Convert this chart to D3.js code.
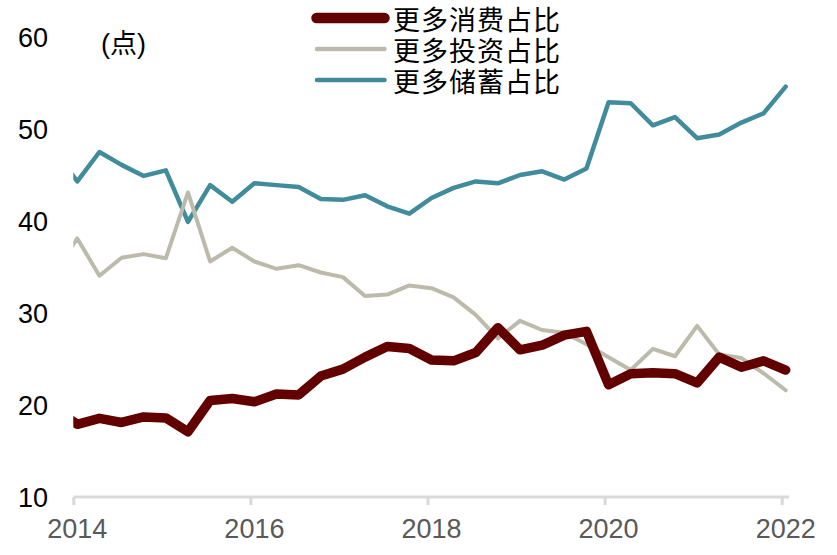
<!DOCTYPE html>
<html>
<head>
<meta charset="utf-8">
<script src="https://cdn.jsdelivr.net/npm/d3@7/dist/d3.min.js"></script>
<style>
  html, body { margin: 0; padding: 0; background: #ffffff; }
  svg { display: block; }
</style>
</head>
<body>
<svg id="chart" width="837" height="555"></svg>
<script>
// ---- Data ----
const quarters = ["2013Q4",
  "2014Q1","2014Q2","2014Q3","2014Q4","2015Q1","2015Q2","2015Q3","2015Q4",
  "2016Q1","2016Q2","2016Q3","2016Q4","2017Q1","2017Q2","2017Q3","2017Q4",
  "2018Q1","2018Q2","2018Q3","2018Q4","2019Q1","2019Q2","2019Q3","2019Q4",
  "2020Q1","2020Q2","2020Q3","2020Q4","2021Q1","2021Q2","2021Q3","2021Q4",
  "2022Q1"];
const consumption = [19.5,
  17.9, 18.55, 18.1, 18.7, 18.6, 17.1, 20.5, 20.7,
  20.35, 21.2, 21.1, 23.15, 23.9, 25.2, 26.35, 26.15,
  24.9, 24.8, 25.7, 28.4, 26.0, 26.5, 27.6, 28.0,
  22.2, 23.4, 23.5, 23.4, 22.4, 25.2, 24.1, 24.8,
  23.8];
const investment = [34.5,
  38.1, 34.05, 36.0, 36.4, 35.95, 43.1, 35.6, 37.1,
  35.6, 34.8, 35.2, 34.4, 33.9, 31.85, 32.0, 33.0,
  32.7, 31.7, 29.8, 27.25, 29.15, 28.15, 27.85, 26.6,
  25.2, 23.8, 26.1, 25.3, 28.6, 25.5, 25.1, 23.45,
  21.6];
const savings = [47.5,
  44.3, 47.5, 46.1, 44.9, 45.5, 39.9, 43.9, 42.1,
  44.1, 43.9, 43.7, 42.4, 42.3, 42.8, 41.6, 40.8,
  42.5, 43.6, 44.3, 44.1, 45.0, 45.4, 44.5, 45.7,
  52.9, 52.8, 50.4, 51.3, 49.0, 49.4, 50.7, 51.7,
  54.6];
const seriesNames = ["更多消费占比", "更多投资占比", "更多储蓄占比"];
const xTickYears = [2014, 2016, 2018, 2020, 2022];
const yTicks = [10, 20, 30, 40, 50, 60];
const unitLabel = "(点)";

// ---- Layout ----
const svg = d3.select("#chart");
const plot = { left: 73.3, right: 781.7, top: 37, bottom: 497 };

const x = d3.scaleLinear().domain([2014, 2022]).range([plot.left, plot.right]);
const y = d3.scaleLinear().domain([10, 60]).range([plot.bottom, plot.top]);

// quarter label -> fractional year (data points sit slightly after the tick)
const qToYear = q => +q.slice(0, 4) + (+q.slice(5) - 1) * 0.25 + 0.045;

const colors = ["#620000", "#bcbbab", "#418c9c"];
const widths = [9.5, 4, 4.5];
const seriesData = [consumption, investment, savings];

// clip to plot area (left edge cuts the 2013Q4 segment)
svg.append("defs").append("clipPath").attr("id", "plotClip")
  .append("rect")
  .attr("x", plot.left).attr("y", 0)
  .attr("width", 837 - plot.left).attr("height", plot.bottom);

// x axis
const xAxis = d3.axisBottom(x)
  .tickValues(xTickYears)
  .tickFormat("")
  .tickSize(8)
  .tickSizeOuter(0);
const gx = svg.append("g")
  .attr("transform", `translate(0,${plot.bottom})`)
  .call(xAxis);
gx.select(".domain")
  .attr("d", `M${plot.left},0H789`)
  .attr("stroke", "#d9d9d9").attr("stroke-width", 3);
gx.selectAll(".tick line").attr("stroke", "#d9d9d9").attr("stroke-width", 3);

// x labels
svg.append("g").selectAll("text")
  .data(xTickYears).join("text")
  .attr("x", d => x(d) + 4)
  .attr("y", 538)
  .attr("text-anchor", "middle")
  .attr("font-family", "'Liberation Sans', Arial, sans-serif")
  .attr("font-size", 27)
  .attr("fill", "#595959")
  .text(d => d);

// y labels (no axis line)
const yAxis = d3.axisLeft(y).tickValues(yTicks).tickSize(0).tickPadding(0);
const gy = svg.append("g")
  .attr("transform", `translate(48,0)`)
  .call(yAxis);
gy.select(".domain").remove();
gy.selectAll("text")
  .attr("font-family", "'Liberation Sans', Arial, sans-serif")
  .attr("font-size", 27)
  .attr("fill", "#000")
  .attr("dy", "0.36em");

// unit label
svg.append("text")
  .attr("x", 101)
  .attr("y", 53)
  .attr("font-family", "'Liberation Sans', 'Noto Sans CJK SC', sans-serif")
  .attr("font-size", 27)
  .attr("fill", "#000")
  .text(unitLabel);

// lines
const line = d3.line()
  .x((d, i) => x(qToYear(quarters[i])))
  .y(d => y(d));

const gLines = svg.append("g").attr("clip-path", "url(#plotClip)");
[2, 1, 0].forEach(k => {
  gLines.append("path")
    .datum(seriesData[k])
    .attr("d", line)
    .attr("fill", "none")
    .attr("stroke", colors[k])
    .attr("stroke-width", widths[k])
    .attr("stroke-linejoin", "round")
    .attr("stroke-linecap", "round");
});

// legend
const legendRows = [18, 49, 80];
const legend = svg.append("g");
seriesNames.forEach((name, k) => {
  legend.append("line")
    .attr("x1", k === 0 ? 316.5 : 317)
    .attr("x2", 384.5)
    .attr("y1", legendRows[k]).attr("y2", legendRows[k])
    .attr("stroke", colors[k])
    .attr("stroke-width", k === 0 ? 10.5 : 4.5)
    .attr("stroke-linecap", "round");
  legend.append("text")
    .attr("x", 393)
    .attr("y", legendRows[k])
    .attr("dominant-baseline", "central")
    .attr("font-family", "'Noto Sans CJK SC', sans-serif")
    .attr("font-size", 27)
    .attr("letter-spacing", 1)
    .attr("fill", "#000")
    .text(name);
});
</script>
</body>
</html>
